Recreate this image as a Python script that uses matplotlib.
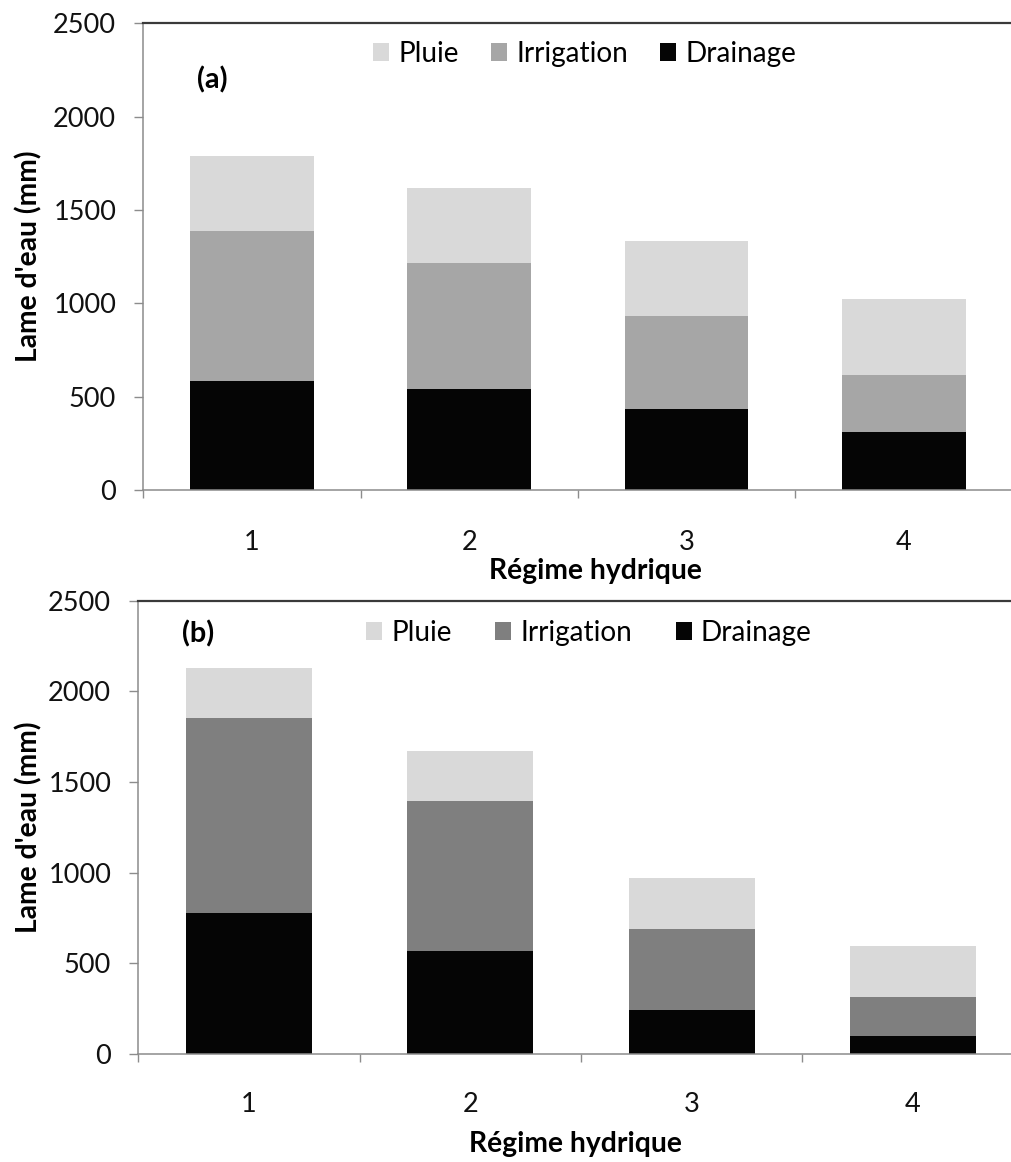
import matplotlib
matplotlib.use('Agg')
import matplotlib.pyplot as plt
import numpy as np

plt.rcParams['font.family'] = ['Lato', 'DejaVu Sans']

regimes = ['1', '2', '3', '4']
series = ['Pluie', 'Irrigation', 'Drainage']

# panel (a)
drain_a = [584, 543, 432, 311]
irr_a = [803, 675, 498, 303]
rain_a = [402, 402, 402, 409]

# panel (b)
drain_b = [776, 568, 243, 101]
irr_b = [1075, 827, 446, 215]
rain_b = [279, 278, 280, 280]

yticks = [0, 500, 1000, 1500, 2000, 2500]

fs = 19.5      # ticks
fs_leg = 20.2  # legend
fs_b = 20.3    # bold labels
W, H = 1011, 1162
fig = plt.figure(figsize=(W / 100, H / 100), dpi=100)


def panel(rect, drain, irr, rain, irr_color, tag, tag_xy, leg_xy, colsp, xlab_xy, ylab_x, xpad):
    ax = fig.add_axes(rect)
    x = np.arange(1, len(regimes) + 1)
    w = 0.57
    b1 = ax.bar(x, drain, w, color='#050505', label='Drainage', zorder=2)
    b2 = ax.bar(x, irr, w, bottom=drain, color=irr_color, label='Irrigation', zorder=2)
    bottom2 = np.array(drain) + np.array(irr)
    b3 = ax.bar(x, rain, w, bottom=bottom2, color='#d9d9d9', label='Pluie', zorder=2)

    ax.set_xlim(0.5, 4.5)
    ax.set_ylim(0, 2500)
    ax.set_yticks(yticks)
    ax.set_yticklabels([str(v) for v in yticks], fontsize=fs, color='#111111')
    ax.set_xticks(x)
    ax.set_xticklabels(regimes, fontsize=fs, color='#111111')
    ax.set_xticks(np.arange(0.5, 4.6, 1), minor=True)
    ax.tick_params(axis='x', which='major', length=0, pad=xpad)
    ax.tick_params(axis='x', which='minor', length=6, width=1, color='#8c8c8c', direction='out')
    ax.tick_params(axis='y', length=6.5, width=1, color='#8c8c8c', pad=13)

    for s in ['left', 'bottom']:
        ax.spines[s].set_color('#8c8c8c')
        ax.spines[s].set_linewidth(1.1)
    ax.spines['top'].set_color('#3a3a3a')
    ax.spines['top'].set_linewidth(1.6)
    ax.spines['right'].set_visible(False)

    ax.set_xlabel('Régime hydrique', fontsize=fs_b, fontweight='bold')
    ax.xaxis.label.set_va('baseline')
    ax.xaxis.set_label_coords(*xlab_xy)
    ax.set_ylabel("Lame d'eau (mm)", fontsize=fs_b, fontweight='bold')
    ax.yaxis.set_label_coords(ylab_x, 0.5)

    fig.text(tag_xy[0] / W, 1 - tag_xy[1] / H, tag, fontsize=fs_b + 0.5, fontweight='bold',
             ha='left', va='center')

    ax.legend([b3, b2, b1], series, loc='center left', frameon=False, fontsize=fs_leg,
              ncol=3, borderpad=0, borderaxespad=0, handlelength=0.57, handleheight=0.57,
              handletextpad=0.33, columnspacing=colsp,
              bbox_to_anchor=(leg_xy[0] / W, 1 - leg_xy[1] / H), bbox_transform=fig.transFigure)
    return ax


panel([143.3 / W, 1 - 490 / H, 869.2 / W, 466.7 / H], drain_a, irr_a, rain_a, '#a6a6a6',
      '(a)', (197, 80), (373, 54), 1.15, (0.5197, -0.1907), -0.1165, 29)
panel([138.3 / W, 1 - 1054 / H, 885.3 / W, 453.3 / H], drain_b, irr_b, rain_b, '#7f7f7f',
      '(b)', (182, 634), (366, 633), 1.55, (0.4933, -0.2162), -0.1088, 27)

fig.savefig('out.png', dpi=100)
